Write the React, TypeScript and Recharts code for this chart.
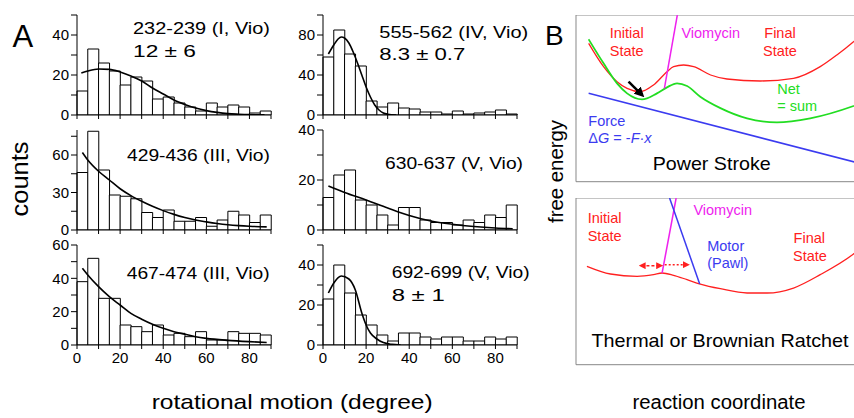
import React from 'react';
import { ComposedChart, LineChart, Bar, Line, XAxis, YAxis, ReferenceLine } from 'recharts';

// ---------- Panel A data ----------
const bins = [0, 5, 10, 15, 20, 25, 30, 35, 40, 45, 50, 55, 60, 65, 70, 75, 80, 85];
const xTicks = [0, 10, 20, 30, 40, 50, 60, 70, 80, 90];
const xTickLabels = [0, 20, 40, 60, 80];

const countsTL = [12, 33, 26, 22, 15, 19, 17, 8, 9, 6, 4, 2, 6, 4, 5, 4, 1, 2];
const countsTR = [58, 85, 61, 49, 14, 8, 12, 7, 6, 3, 3, 1, 4, 1, 2, 3, 5, 1];
const countsML = [46, 79, 48, 28, 27, 25, 14, 10, 16, 7, 7, 10, 3, 8, 15, 12, 6, 12];
const countsMR = [13, 22, 24, 12, 10, 6, 2, 9, 9, 4, 3, 3, 2, 4, 3, 6, 5, 10];
const countsBL = [38, 52, 28, 28, 12, 11, 8, 12, 6, 7, 5, 8, 3, 3, 8, 7, 7, 6];
const countsBR = [23, 40, 26, 15, 10, 5, 2, 6, 6, 4, 3, 4, 4, 2, 2, 4, 3, 4];

const fitTLx = [2, 5, 10, 15, 20, 25, 30, 35, 40, 45, 50, 55, 60, 65, 70, 75, 80, 87];
const fitTLy = [21, 22, 23, 22.8, 21.5, 19.5, 17, 13.5, 10.5, 7.5, 5.3, 3.5, 2.2, 1.3, 0.7, 0.4, 0.2, 0.1];
const fitTRx = [2.5, 5, 7, 8.5, 10, 12, 14, 16, 18, 20, 22, 24, 26, 28, 30, 34];
const fitTRy = [61, 70, 76, 78, 77, 72, 63, 52, 40, 28, 18, 10, 5, 2, 0.8, 0];
const fitMLx = [2.5, 5, 10, 15, 20, 25, 30, 35, 40, 45, 50, 55, 60, 65, 70, 75, 80, 88];
const fitMLy = [62, 56, 47, 40, 33, 27.5, 23, 19, 15.5, 12.5, 10, 8, 6.5, 5.2, 4.2, 3.5, 3, 2.5];
const fitMRx = [2.5, 10, 20, 30, 40, 50, 60, 70, 80, 88];
const fitMRy = [17.6, 15, 12, 8.8, 5.8, 3.6, 2.3, 1.4, 0.8, 0.5];
const fitBLx = [2.5, 5, 10, 15, 20, 25, 30, 35, 40, 45, 50, 55, 60, 70, 80, 88];
const fitBLy = [46, 42, 35, 29, 24, 19, 15.5, 12.5, 10, 8, 6.5, 5, 4, 2.8, 2, 1.5];
const fitBRx = [2.5, 5, 8.5, 12, 15, 18, 20, 22, 25, 28, 32, 36];
const fitBRy = [26, 31, 34.5, 33, 27.5, 16, 10, 6, 3, 1.2, 0.3, 0];

const yTicksTL = [0, 10, 20, 30, 40, 50];
const yLabelsTL = [0, 20, 40];
const yTicksTR = [0, 20, 40, 60, 80, 100];
const yLabelsTR = [0, 40, 80];
const yTicksML = [0, 15, 30, 45, 60, 75];
const yLabelsML = [0, 30, 60];
const yTicksMR = [0, 10, 20, 30, 40];
const yLabelsMR = [0, 20, 40];
const yTicksBL = [0, 10, 20, 30, 40, 50, 60];
const yLabelsBL = [0, 20, 40, 60];
const yTicksBR = [0, 10, 20, 30, 40, 50];
const yLabelsBR = [0, 20, 40];

// ---------- Panel B data (reaction coordinate u, free energy v) ----------
const bTicksX = [10, 20, 30, 40, 50, 60, 70, 80, 90];
const bTicksY = [25, 50, 75];

const psRedU = [4.4, 9.6, 14.3, 17.8, 22.4, 27.0, 31.7, 34.0, 37.5, 41.0, 46.9, 52.6, 64.2, 75.8, 85.1, 90.9, 96.7, 100];
const psRedV = [83, 69, 60, 56, 54, 58, 66, 69, 70, 69, 64, 61.6, 60.4, 62, 69, 76, 84, 89];
const psGreenU = [4.4, 9.6, 14.3, 17.8, 23.0, 28.2, 31.7, 35.2, 38.7, 43.3, 50.5, 59.6, 70.0, 81.6, 96.7, 100];
const psGreenV = [85.4, 71, 59, 53, 49.4, 53, 56.6, 59, 57.4, 51, 44, 38, 35.6, 38, 45.4, 47.5];
const psBlueU = [4.4, 100];
const psBlueV = [53, 10.5];
const psVioU = [30.8, 35.3];
const psVioV = [56, 100];
const psArrowU = [18.3, 22.8];
const psArrowV = [60, 52.4];

const brRedU = [3.8, 12.0, 21.3, 27.0, 30.0, 34.0, 38.7, 43.3, 50.3, 59.6, 66.6, 75.8, 85.1, 96.7, 100];
const brRedV = [59, 54.4, 53, 54, 55, 53.6, 51, 48.4, 45.6, 43, 43, 46, 54, 66.4, 71];
const brVioU = [30.0, 34.9];
const brVioV = [55, 100];
const brMotorU = [32.6, 43.1];
const brMotorV = [100, 48.4];
const brArrowLU = [22.8, 29.4];
const brArrowLV = [59.4, 59.4];
const brArrowRU = [30.9, 38.7];
const brArrowRV = [60, 60];

const FONT = '"Liberation Sans", Arial, Helvetica, sans-serif';
const RED = '#ff2020';
const MAG = '#ee22ee';
const BLUE = '#3b3bf0';
const GREEN = '#22dd22';

const zip = (xs: number[], ys: number[], kx: string, ky: string) =>
  xs.map((x, i) => ({ [kx]: x, [ky]: ys[i] }));

type HistProps = {
  px: number; py: number; counts: number[]; fx: number[]; fy: number[];
  yMax: number; yTicks: number[]; yLabels: number[]; showX: boolean;
};

const Hist = ({ px, py, counts, fx, fy, yMax, yTicks, yLabels, showX }: HistProps) => {
  const YW = 50, MT = 10, MR = 12, XH = 30, PW = 194, PH = 100;
  const data = bins.map((b, i) => ({ bin: b, x: b + 2.5, c: counts[i] }));
  const fitData = zip(fx, fy, 'x', 'y');
  return (
    <div style={{ position: 'absolute', left: px - YW, top: py - MT }}>
      <ComposedChart width={YW + PW + MR} height={MT + PH + XH} data={data}
        margin={{ top: MT, right: MR, bottom: 0, left: 0 }} barCategoryGap={0} barGap={0}>
        <XAxis xAxisId="num" dataKey="x" type="number" domain={[0, 90]} ticks={xTicks} interval={0}
          tickFormatter={(v: number) => (showX && xTickLabels.includes(v) ? String(v) : '')}
          tickSize={4} tickMargin={3} height={XH} stroke="#000"
          axisLine={{ stroke: '#000' }} tickLine={{ stroke: '#000' }}
          tick={{ fill: '#000', fontSize: 15, fontFamily: FONT }} allowDataOverflow />
        <XAxis xAxisId="cat" dataKey="bin" type="category" hide height={0} />
        <YAxis type="number" domain={[0, yMax]} ticks={yTicks} interval={0}
          tickFormatter={(v: number) => (yLabels.includes(v) ? String(v) : '')}
          width={YW} tickSize={6} tickMargin={2} stroke="#000"
          axisLine={{ stroke: '#000' }} tickLine={{ stroke: '#000' }}
          tick={{ fill: '#000', fontSize: 15, fontFamily: FONT }} allowDataOverflow />
        <Bar xAxisId="cat" dataKey="c" fill="#fff" stroke="#000" strokeWidth={1} isAnimationActive={false} />
        <Line xAxisId="num" data={fitData} dataKey="y" type="monotone" stroke="#000" strokeWidth={1.6}
          dot={false} isAnimationActive={false} />
      </ComposedChart>
    </div>
  );
};

type SeriesDef = { u: number[]; v: number[]; color: string; width: number; dash?: string; mStart?: string; mEnd?: string };

const Energy = ({ left, top, w, h, series }: { left: number; top: number; w: number; h: number; series: SeriesDef[] }) => (
  <div style={{ position: 'absolute', left: left - 10, top }}>
    <LineChart width={10 + w} height={h + 10} margin={{ top: 0, right: 0, bottom: 0, left: 0 }}>
      <XAxis dataKey="u" type="number" domain={[0, 100]} ticks={bTicksX} interval={0} tickSize={-5} tick={false}
        height={10} stroke="#888" allowDataOverflow />
      <YAxis type="number" domain={[0, 100]} ticks={bTicksY} interval={0} tickSize={-5} tick={false}
        width={10} stroke="#888" allowDataOverflow />
      <ReferenceLine y={100} stroke="#888" />
      {series.map((s, i) => (
        <Line key={i} data={zip(s.u, s.v, 'u', 'v')} dataKey="v" type="monotone" stroke={s.color}
          strokeWidth={s.width} strokeDasharray={s.dash} dot={false} isAnimationActive={false}
          markerStart={s.mStart} markerEnd={s.mEnd} />
      ))}
    </LineChart>
  </div>
);

export default function App() {
  return (
    <div style={{ position: 'absolute', left: 0, top: 0, width: 854, height: 418, overflow: 'hidden', background: '#fff', fontFamily: FONT }}>
      <svg width={0} height={0} style={{ position: 'absolute' }}>
        <defs>
          <marker id="arrBlack" viewBox="0 0 10 10" refX="6" refY="5" markerWidth="4" markerHeight="4" orient="auto-start-reverse">
            <path d="M0,0 L10,5 L0,10 z" fill="#000" />
          </marker>
          <marker id="arrRed" viewBox="0 0 10 10" refX="6" refY="5" markerWidth="5" markerHeight="5" orient="auto-start-reverse">
            <path d="M0,0 L10,5 L0,10 z" fill={RED} />
          </marker>
        </defs>
      </svg>

      <Hist px={76.7} py={15} counts={countsTL} fx={fitTLx} fy={fitTLy} yMax={50} yTicks={yTicksTL} yLabels={yLabelsTL} showX={false} />
      <Hist px={322.7} py={15} counts={countsTR} fx={fitTRx} fy={fitTRy} yMax={100} yTicks={yTicksTR} yLabels={yLabelsTR} showX={false} />
      <Hist px={76.7} py={130} counts={countsML} fx={fitMLx} fy={fitMLy} yMax={80} yTicks={yTicksML} yLabels={yLabelsML} showX={false} />
      <Hist px={322.7} py={130} counts={countsMR} fx={fitMRx} fy={fitMRy} yMax={40} yTicks={yTicksMR} yLabels={yLabelsMR} showX={false} />
      <Hist px={76.7} py={245} counts={countsBL} fx={fitBLx} fy={fitBLy} yMax={60} yTicks={yTicksBL} yLabels={yLabelsBL} showX={true} />
      <Hist px={322.7} py={245} counts={countsBR} fx={fitBRx} fy={fitBRy} yMax={50} yTicks={yTicksBR} yLabels={yLabelsBR} showX={true} />

      <Energy left={575.7} top={15} w={287} h={166.7} series={[
        { u: psBlueU, v: psBlueV, color: BLUE, width: 1.5 },
        { u: psRedU, v: psRedV, color: RED, width: 1.3 },
        { u: psGreenU, v: psGreenV, color: GREEN, width: 1.8 },
        { u: psVioU, v: psVioV, color: MAG, width: 1.5 },
        { u: psArrowU, v: psArrowV, color: '#000', width: 2.5, mEnd: 'url(#arrBlack)' },
      ]} />
      <Energy left={575.7} top={198.3} w={287} h={166.7} series={[
        { u: brRedU, v: brRedV, color: RED, width: 1.3 },
        { u: brVioU, v: brVioV, color: MAG, width: 1.5 },
        { u: brMotorU, v: brMotorV, color: BLUE, width: 1.5 },
        { u: brArrowLU, v: brArrowLV, color: RED, width: 1.4, dash: '3 2', mStart: 'url(#arrRed)', mEnd: 'url(#arrRed)' },
        { u: brArrowRU, v: brArrowRV, color: RED, width: 1.4, dash: '2 2', mEnd: 'url(#arrRed)' },
      ]} />

      <svg width={854} height={418} style={{ position: 'absolute', left: 0, top: 0, pointerEvents: 'none' }} fontFamily={FONT}>
        {/* Panel A labels */}
        <text x={12.5} y={47} fontSize={31} fill="#000">A</text>
        <text transform="translate(28,179) rotate(-90)" textAnchor="middle" fontSize={23} fill="#000" textLength={75} lengthAdjust="spacingAndGlyphs">counts</text>
        <text x={151.7} y={409} fontSize={21} fill="#000" textLength={281} lengthAdjust="spacingAndGlyphs">rotational motion (degree)</text>

        <text x={133} y={34.3} fontSize={17} fill="#000" textLength={137} lengthAdjust="spacingAndGlyphs">232-239 (I, Vio)</text>
        <text x={133} y={57} fontSize={17} fill="#000" textLength={63} lengthAdjust="spacingAndGlyphs">12 ± 6</text>
        <text x={379.3} y={38.3} fontSize={17} fill="#000" textLength={149} lengthAdjust="spacingAndGlyphs">555-562 (IV, Vio)</text>
        <text x={379.3} y={60} fontSize={17} fill="#000" textLength={86} lengthAdjust="spacingAndGlyphs">8.3 ± 0.7</text>
        <text x={127} y={160.7} fontSize={17} fill="#000" textLength={143} lengthAdjust="spacingAndGlyphs">429-436 (III, Vio)</text>
        <text x={385} y={169} fontSize={17} fill="#000" textLength={138} lengthAdjust="spacingAndGlyphs">630-637 (V, Vio)</text>
        <text x={126.7} y={279.3} fontSize={17} fill="#000" textLength={143} lengthAdjust="spacingAndGlyphs">467-474 (III, Vio)</text>
        <text x={391.7} y={277.7} fontSize={17} fill="#000" textLength={138} lengthAdjust="spacingAndGlyphs">692-699 (V, Vio)</text>
        <text x={391.7} y={301} fontSize={17} fill="#000" textLength={53} lengthAdjust="spacingAndGlyphs">8 ± 1</text>

        {/* Panel B labels */}
        <text x={545} y={45} fontSize={28} fill="#000">B</text>
        <text transform="translate(563,171.5) rotate(-90)" textAnchor="middle" fontSize={20} fill="#000" textLength={103} lengthAdjust="spacingAndGlyphs">free energy</text>
        <text x={719} y={409} textAnchor="middle" fontSize={20} fill="#000" textLength={173} lengthAdjust="spacingAndGlyphs">reaction coordinate</text>

        <text x={626.7} y={38.3} textAnchor="middle" fontSize={14.5} fill={RED}>Initial</text>
        <text x={626.7} y={56} textAnchor="middle" fontSize={14.5} fill={RED}>State</text>
        <text x={710.7} y={38.3} textAnchor="middle" fontSize={14.5} fill={MAG}>Viomycin</text>
        <text x={780} y={38.3} textAnchor="middle" fontSize={14.5} fill={RED}>Final</text>
        <text x={780} y={56} textAnchor="middle" fontSize={14.5} fill={RED}>State</text>
        <text x={777.3} y={94.3} fontSize={14.5} fill={GREEN}>Net</text>
        <text x={777.3} y={111} fontSize={14.5} fill={GREEN}>= sum</text>
        <text x={588.3} y={125.7} fontSize={14.5} fill={BLUE}>Force</text>
        <text x={588.3} y={142.7} fontSize={14.5} fill={BLUE}>
          <tspan>Δ</tspan><tspan fontStyle="italic">G</tspan><tspan> = -</tspan><tspan fontStyle="italic">F</tspan><tspan>·</tspan><tspan fontStyle="italic">x</tspan>
        </text>
        <text x={711.7} y={170} textAnchor="middle" fontSize={19} fill="#000" textLength={118} lengthAdjust="spacingAndGlyphs">Power Stroke</text>

        <text x={587.7} y={223.3} fontSize={14.5} fill={RED}>Initial</text>
        <text x={587.7} y={240.7} fontSize={14.5} fill={RED}>State</text>
        <text x={722.7} y={215} textAnchor="middle" fontSize={14.5} fill={MAG}>Viomycin</text>
        <text x={725.7} y={251} textAnchor="middle" fontSize={14.5} fill={BLUE}>Motor</text>
        <text x={727.7} y={268.3} textAnchor="middle" fontSize={14.5} fill={BLUE}>(Pawl)</text>
        <text x={809.3} y={242.7} textAnchor="middle" fontSize={14.5} fill={RED}>Final</text>
        <text x={810} y={260.7} textAnchor="middle" fontSize={14.5} fill={RED}>State</text>
        <text x={720} y={346.7} textAnchor="middle" fontSize={19} fill="#000" textLength={257} lengthAdjust="spacingAndGlyphs">Thermal or Brownian Ratchet</text>
      </svg>
    </div>
  );
}
